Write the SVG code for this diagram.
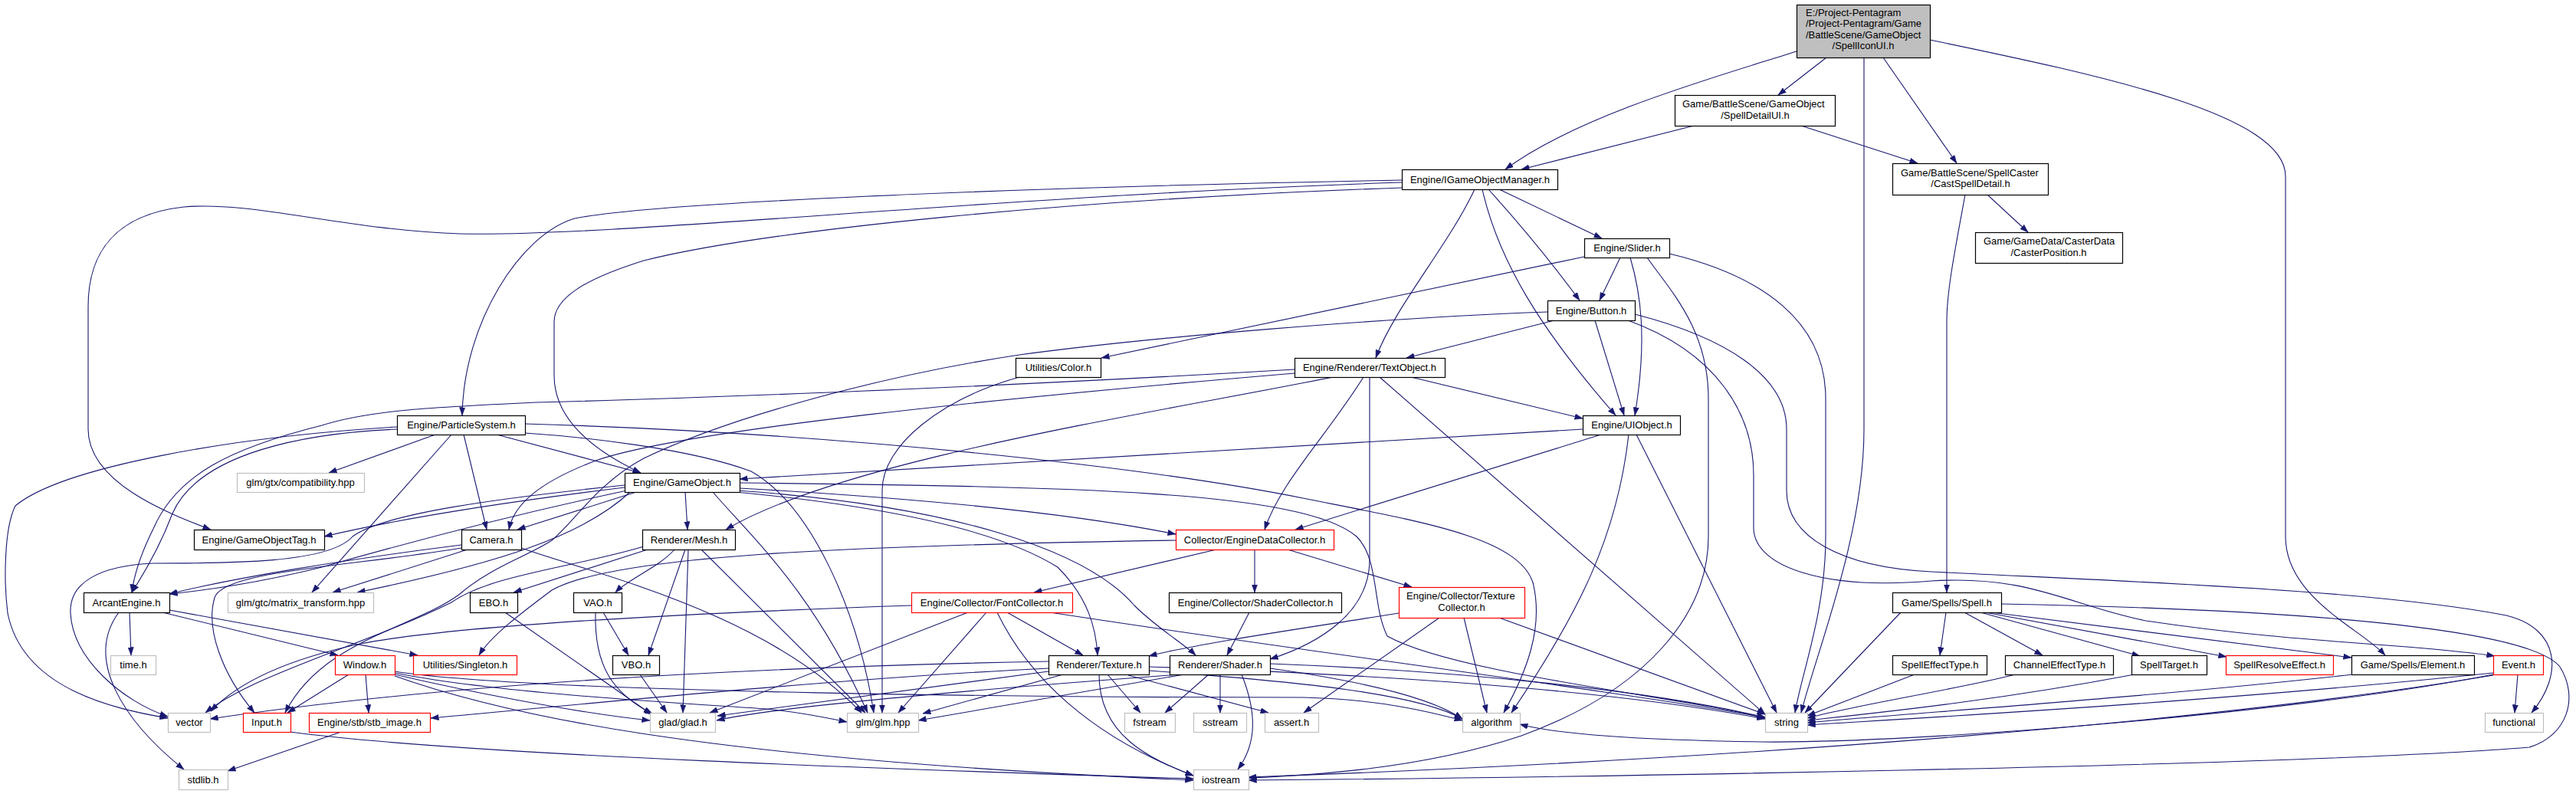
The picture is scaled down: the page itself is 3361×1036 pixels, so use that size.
<svg xmlns="http://www.w3.org/2000/svg" width="3361" height="1036" viewBox="0 0 3361 1036">
<style>
text{font-family:"Liberation Sans",Arial,Helvetica,sans-serif;font-size:13px;fill:#000}
.c{text-anchor:middle}
.s{text-anchor:start}
.nb rect{fill:#fff;stroke:#000;stroke-width:1.2}
.ng rect{fill:#fff;stroke:#bfbfbf;stroke-width:1.2}
.nr rect{fill:#fff;stroke:#ff0000;stroke-width:1.2}
.nroot rect{fill:#bfbfbf;stroke:#000;stroke-width:1.2}
#edges path{fill:none;stroke:#191970;stroke-width:1.1;marker-end:url(#arr)}
</style>
<defs>
<marker id="arr" markerUnits="userSpaceOnUse" viewBox="0 0 11 8" markerWidth="11" markerHeight="8" refX="10.5" refY="4" orient="auto">
<path d="M0,0.3 L10.5,4 L0,7.7 z" fill="#191970" stroke="#191970" stroke-width="0.5"/>
</marker>
</defs>
<rect x="0" y="0" width="3361" height="1036" fill="#fff"/>
<g id="edges">
<path d="M2344,67 C2240,100 2060,150 1964,221"/>
<path d="M2383,75 L2320,124"/>
<path d="M2432,75 L2432,560 C2432,700 2370,850 2350,930"/>
<path d="M2457,75 L2553,213"/>
<path d="M2518,52 C2750,100 2982,150 2982,230 L2982,700 C2982,780 3080,820 3112,855"/>
<path d="M2210,164 L1985,221"/>
<path d="M2350,164 L2502,213"/>
<path d="M2593,254 L2646,303"/>
<path d="M2564,254 C2550,330 2540,380 2540,420 L2540,773"/>
<path d="M1829,238 C1300,255 800,310 600,305 C450,300 330,262 240,270 C150,280 115,330 115,400 L115,560 C115,630 220,670 275,691"/>
<path d="M1829,235 C1300,245 850,265 750,285 C680,305 605,420 603,542"/>
<path d="M1829,245 C1400,260 1000,300 840,340 C760,365 723,390 723,420 L723,490 C723,560 800,600 836,617"/>
<path d="M1924,247 C1890,320 1820,400 1795,467"/>
<path d="M1934,247 C1955,340 2010,430 2108,542"/>
<path d="M1942,247 C1990,300 2030,350 2061,392"/>
<path d="M1956,247 L2090,311"/>
<path d="M2114,336 L2087,392"/>
<path d="M2127,336 C2140,380 2150,440 2133,542"/>
<path d="M2067,335 L1437,467"/>
<path d="M2178,331 C2300,360 2382,420 2382,520 L2382,700 C2382,800 2350,880 2342,930"/>
<path d="M2149,336 C2180,380 2229,430 2229,520 L2229,700 C2229,800 2150,900 1985,960 C1850,1005 1700,1012 1629,1015"/>
<path d="M2028,418 L1835,467"/>
<path d="M2081,418 L2119,542"/>
<path d="M2019,407 C1800,415 1500,440 1330,463 C1150,490 950,545 840,598 C780,630 750,680 720,705 C690,725 640,740 600,775 C540,820 420,835 372,930"/>
<path d="M2124,418 C2240,460 2288,540 2288,620 L2288,690 C2290,740 2380,770 2520,758 C2650,750 2700,790 2800,810 C3000,840 3150,840 3255,856"/>
<path d="M2133,410 C2250,440 2331,490 2331,560 L2331,640 C2331,700 2400,740 2520,746 C2800,760 3100,770 3270,803 C3340,820 3345,880 3303,930"/>
<path d="M1330,492 C1230,520 1151,580 1151,640 L1151,930"/>
<path d="M1689,482 C1300,505 900,520 700,525 C550,532 480,536 420,555 C300,585 230,620 200,690 C185,720 175,750 172,773"/>
<path d="M1689,487 C1300,520 900,560 780,600 C700,630 670,660 664,691"/>
<path d="M1739,492 C1500,540 1100,600 947,691"/>
<path d="M1779,492 C1730,570 1670,630 1650,691"/>
<path d="M1787,492 L1787,730 C1787,800 1720,840 1657,860"/>
<path d="M1800,492 L2303,932"/>
<path d="M1841,492 L2065,546"/>
<path d="M648,567 L836,617"/>
<path d="M605,567 L635,691"/>
<path d="M518,560 C400,565 260,590 225,670 C210,710 190,745 172,773"/>
<path d="M518,557 C300,570 80,610 20,660 C5,690 5,760 10,800 C30,900 150,925 219,937"/>
<path d="M568,567 L429,617"/>
<path d="M589,567 L407,773"/>
<path d="M685,565 C760,570 900,585 980,615 C1060,660 1120,800 1140,930"/>
<path d="M685,553 C1100,565 1500,610 1700,650 C1850,680 1980,700 2000,760 C2015,820 1990,880 1962,930"/>
<path d="M2065,560 L965,625"/>
<path d="M2089,567 L1690,691"/>
<path d="M2125,567 C2110,700 2060,800 1972,930"/>
<path d="M2135,567 L2318,930"/>
<path d="M815,636 C700,650 550,670 423,700"/>
<path d="M830,642 L675,691"/>
<path d="M818,640 C700,665 560,700 420,740 C320,765 250,772 221,775"/>
<path d="M894,642 L897,691"/>
<path d="M965,637 C1200,650 1400,670 1534,697"/>
<path d="M960,642 C1150,660 1300,690 1380,740 C1420,780 1430,820 1432,855"/>
<path d="M962,640 C1250,660 1420,720 1480,790 C1510,820 1545,840 1560,855"/>
<path d="M930,642 C980,700 1060,770 1132,930"/>
<path d="M822,642 C760,700 650,735 466,773"/>
<path d="M815,633 C650,650 500,670 460,700 C430,735 300,735 200,735 C130,738 90,760 92,800 C95,860 160,915 219,935"/>
<path d="M965,630 C1400,635 1700,640 1770,700 C1800,730 1790,790 1810,830 C1900,880 2200,910 2303,937"/>
<path d="M845,717 L670,773"/>
<path d="M880,717 C860,740 820,755 803,773"/>
<path d="M894,717 L846,855"/>
<path d="M898,717 L891,930"/>
<path d="M915,717 L1129,930"/>
<path d="M840,713 C750,740 640,750 589,786 C480,840 330,880 268,930"/>
<path d="M659,799 L850,932"/>
<path d="M787,799 L820,855"/>
<path d="M777,799 C775,870 800,905 852,932"/>
<path d="M835,880 L870,930"/>
<path d="M1587,717 L1349,773"/>
<path d="M1637,717 L1637,773"/>
<path d="M1680,717 L1842,766"/>
<path d="M1534,705 C1100,712 800,725 720,770 C680,800 640,830 625,855"/>
<path d="M1314,799 L1413,855"/>
<path d="M1263,799 L926,930"/>
<path d="M1287,799 L1172,930"/>
<path d="M1301,799 C1340,880 1420,960 1557,1012"/>
<path d="M1370,799 C1700,850 2100,900 2303,936"/>
<path d="M1189,790 C900,800 600,815 470,840 C400,855 320,880 275,928"/>
<path d="M1630,799 L1601,855"/>
<path d="M1825,800 C1700,820 1560,840 1499,856"/>
<path d="M1878,806 L1701,930"/>
<path d="M1910,806 L1940,930"/>
<path d="M1956,806 L2303,932"/>
<path d="M2539,799 L2531,855"/>
<path d="M2563,799 L2665,855"/>
<path d="M2584,799 L2792,856"/>
<path d="M2590,799 L2905,857"/>
<path d="M2598,799 L3068,858"/>
<path d="M2480,799 L2355,930"/>
<path d="M2611,788 C3000,795 3300,820 3340,870 C3365,910 3350,960 3300,975 C3000,1000 2000,1015 1629,1018"/>
<path d="M2498,880 L2358,934"/>
<path d="M2630,880 C2550,900 2420,920 2358,937"/>
<path d="M2785,880 C2600,915 2450,930 2358,940"/>
<path d="M3070,880 C2800,910 2500,930 2358,943"/>
<path d="M3253,878 C2900,915 2500,937 2358,946"/>
<path d="M3253,880 C3000,930 2500,970 2300,968 C2100,965 2020,955 1983,945"/>
<path d="M3253,881 C2900,940 2300,990 1629,1014"/>
<path d="M3285,880 L3281,930"/>
<path d="M455,880 L375,930"/>
<path d="M477,880 L481,930"/>
<path d="M515,880 C600,900 750,930 848,940"/>
<path d="M515,878 C650,905 900,918 1000,925 C1050,930 1080,937 1105,942"/>
<path d="M515,876 C700,905 1400,910 1700,910 C1800,912 1870,930 1908,940"/>
<path d="M515,882 C650,930 900,990 1557,1018"/>
<path d="M379,955 C600,985 1200,1005 1557,1016"/>
<path d="M445,955 L297,1006"/>
<path d="M602,711 C450,730 300,755 221,775"/>
<path d="M602,715 C450,740 290,745 280,780 C268,820 290,880 332,930"/>
<path d="M610,717 L434,773"/>
<path d="M680,715 C780,750 1000,800 1124,930"/>
<path d="M169,799 L171,855"/>
<path d="M155,799 C110,860 160,940 240,1004"/>
<path d="M212,799 L441,855"/>
<path d="M221,796 L545,855"/>
<path d="M1368,872 C1100,885 800,915 562,937"/>
<path d="M1368,863 C1000,870 600,890 274,938"/>
<path d="M1368,876 L936,934"/>
<path d="M1387,880 L1204,931"/>
<path d="M1445,880 L1488,930"/>
<path d="M1434,880 C1434,960 1500,990 1557,1012"/>
<path d="M1472,881 L1655,930"/>
<path d="M1499,870 C1800,880 2100,900 2303,938"/>
<path d="M1499,875 C1700,890 1850,905 1908,938"/>
<path d="M1540,880 C1200,905 1000,925 935,940"/>
<path d="M1545,880 C1400,905 1280,925 1198,940"/>
<path d="M1577,880 L1520,930"/>
<path d="M1592,880 L1592,930"/>
<path d="M1620,880 C1640,930 1640,970 1615,1004"/>
<path d="M1657,866 C1900,875 2150,900 2303,936"/>
<path d="M1657,872 C1750,885 1860,905 1908,938"/>
</g>
<g id="node-root" class="nroot"><rect x="2344.5" y="6.5" width="174" height="69"/>
<text class="s" x="2356" y="20.5">E:/Project-Pentagram</text>
<text class="s" x="2356" y="35">/Project-Pentagram/Game</text>
<text class="s" x="2356" y="49.5">/BattleScene/GameObject</text>
<text class="c" x="2431" y="64">/SpellIconUI.h</text></g>
<g id="node-spelldetailui" class="nb"><rect x="2185.5" y="124.5" width="209" height="40"/>
<text class="s" x="2195" y="140">Game/BattleScene/GameObject</text>
<text class="c" x="2290" y="154.5">/SpellDetailUI.h</text></g>
<g id="node-igameobjectmanager" class="nb"><rect x="1829.5" y="221.5" width="203" height="26"/><text class="c" x="1931" y="238.5">Engine/IGameObjectManager.h</text></g>
<g id="node-castspelldetail" class="nb"><rect x="2469.5" y="213.5" width="203" height="41"/>
<text class="s" x="2480" y="229.5">Game/BattleScene/SpellCaster</text>
<text class="c" x="2571" y="244">/CastSpellDetail.h</text></g>
<g id="node-casterposition" class="nb"><rect x="2577.5" y="303.5" width="192" height="40"/>
<text class="s" x="2588" y="319">Game/GameData/CasterData</text>
<text class="c" x="2673" y="333.5">/CasterPosition.h</text></g>
<g id="node-slider" class="nb"><rect x="2067.5" y="311.5" width="111" height="25"/><text class="c" x="2123" y="328">Engine/Slider.h</text></g>
<g id="node-button" class="nb"><rect x="2019.5" y="392.5" width="114" height="26"/><text class="c" x="2076" y="409.5">Engine/Button.h</text></g>
<g id="node-color" class="nb"><rect x="1325.5" y="467.5" width="111" height="25"/><text class="c" x="1381" y="484">Utilities/Color.h</text></g>
<g id="node-textobject" class="nb"><rect x="1689.5" y="467.5" width="196" height="25"/><text class="c" x="1787" y="484">Engine/Renderer/TextObject.h</text></g>
<g id="node-particlesystem" class="nb"><rect x="518.5" y="542.5" width="167" height="25"/><text class="c" x="602" y="559">Engine/ParticleSystem.h</text></g>
<g id="node-uiobject" class="nb"><rect x="2065.5" y="542.5" width="127" height="25"/><text class="c" x="2129" y="559">Engine/UIObject.h</text></g>
<g id="node-compat" class="ng"><rect x="309.5" y="617.5" width="166" height="25"/><text class="c" x="392" y="634">glm/gtx/compatibility.hpp</text></g>
<g id="node-gameobject" class="nb"><rect x="815.5" y="617.5" width="150" height="25"/><text class="c" x="890" y="634">Engine/GameObject.h</text></g>
<g id="node-gameobjecttag" class="nb"><rect x="253.5" y="691.5" width="170" height="26"/><text class="c" x="338" y="708.5">Engine/GameObjectTag.h</text></g>
<g id="node-camera" class="nb"><rect x="602.5" y="691.5" width="78" height="26"/><text class="c" x="641" y="708.5">Camera.h</text></g>
<g id="node-mesh" class="nb"><rect x="838.5" y="691.5" width="121" height="26"/><text class="c" x="899" y="708.5">Renderer/Mesh.h</text></g>
<g id="node-enginedatacollector" class="nr"><rect x="1534.5" y="691.5" width="206" height="26"/><text class="c" x="1637" y="708.5">Collector/EngineDataCollector.h</text></g>
<g id="node-arcantengine" class="nb"><rect x="109.5" y="773.5" width="112" height="26"/><text class="c" x="165" y="790.5">ArcantEngine.h</text></g>
<g id="node-matrixtransform" class="ng"><rect x="297.5" y="773.5" width="190" height="26"/><text class="c" x="392" y="790.5">glm/gtc/matrix_transform.hpp</text></g>
<g id="node-ebo" class="nb"><rect x="613.5" y="773.5" width="62" height="26"/><text class="c" x="644" y="790.5">EBO.h</text></g>
<g id="node-vao" class="nb"><rect x="748.5" y="773.5" width="63" height="26"/><text class="c" x="780" y="790.5">VAO.h</text></g>
<g id="node-fontcollector" class="nr"><rect x="1189.5" y="773.5" width="210" height="26"/><text class="c" x="1294" y="790.5">Engine/Collector/FontCollector.h</text></g>
<g id="node-shadercollector" class="nb"><rect x="1525.5" y="773.5" width="225" height="26"/><text class="c" x="1638" y="790.5">Engine/Collector/ShaderCollector.h</text></g>
<g id="node-texturecollector" class="nr"><rect x="1825.5" y="766.5" width="164" height="40"/>
<text class="s" x="1835" y="782">Engine/Collector/Texture</text>
<text class="c" x="1907" y="796.5">Collector.h</text></g>
<g id="node-spell" class="nb"><rect x="2469.5" y="773.5" width="142" height="26"/><text class="c" x="2540" y="790.5">Game/Spells/Spell.h</text></g>
<g id="node-time" class="ng"><rect x="144.5" y="855.5" width="59" height="25"/><text class="c" x="174" y="872">time.h</text></g>
<g id="node-window" class="nr"><rect x="437.5" y="855.5" width="78" height="25"/><text class="c" x="476" y="872">Window.h</text></g>
<g id="node-singleton" class="nr"><rect x="539.5" y="855.5" width="135" height="25"/><text class="c" x="607" y="872">Utilities/Singleton.h</text></g>
<g id="node-vbo" class="nb"><rect x="799.5" y="855.5" width="61" height="25"/><text class="c" x="830" y="872">VBO.h</text></g>
<g id="node-texture" class="nb"><rect x="1368.5" y="855.5" width="131" height="25"/><text class="c" x="1434" y="872">Renderer/Texture.h</text></g>
<g id="node-shader" class="nb"><rect x="1526.5" y="855.5" width="131" height="25"/><text class="c" x="1592" y="872">Renderer/Shader.h</text></g>
<g id="node-spelleffecttype" class="nb"><rect x="2469.5" y="855.5" width="123" height="25"/><text class="c" x="2531" y="872">SpellEffectType.h</text></g>
<g id="node-channeleffecttype" class="nb"><rect x="2616.5" y="855.5" width="141" height="25"/><text class="c" x="2687" y="872">ChannelEffectType.h</text></g>
<g id="node-spelltarget" class="nb"><rect x="2781.5" y="855.5" width="98" height="25"/><text class="c" x="2830" y="872">SpellTarget.h</text></g>
<g id="node-spellresolveeffect" class="nr"><rect x="2904.5" y="855.5" width="140" height="25"/><text class="c" x="2974" y="872">SpellResolveEffect.h</text></g>
<g id="node-element" class="nb"><rect x="3068.5" y="855.5" width="160" height="25"/><text class="c" x="3148" y="872">Game/Spells/Element.h</text></g>
<g id="node-event" class="nr"><rect x="3253.5" y="855.5" width="65" height="25"/><text class="c" x="3286" y="872">Event.h</text></g>
<g id="node-vector" class="ng"><rect x="219.5" y="930.5" width="55" height="25"/><text class="c" x="247" y="947">vector</text></g>
<g id="node-input" class="nr"><rect x="317.5" y="930.5" width="62" height="25"/><text class="c" x="348" y="947">Input.h</text></g>
<g id="node-stbimage" class="nr"><rect x="403.5" y="930.5" width="158" height="25"/><text class="c" x="482" y="947">Engine/stb/stb_image.h</text></g>
<g id="node-glad" class="ng"><rect x="848.5" y="930.5" width="85" height="25"/><text class="c" x="891" y="947">glad/glad.h</text></g>
<g id="node-glm" class="ng"><rect x="1105.5" y="930.5" width="93" height="25"/><text class="c" x="1152" y="947">glm/glm.hpp</text></g>
<g id="node-fstream" class="ng"><rect x="1467.5" y="930.5" width="66" height="25"/><text class="c" x="1500" y="947">fstream</text></g>
<g id="node-sstream" class="ng"><rect x="1557.5" y="930.5" width="69" height="25"/><text class="c" x="1592" y="947">sstream</text></g>
<g id="node-assert" class="ng"><rect x="1650.5" y="930.5" width="70" height="25"/><text class="c" x="1685" y="947">assert.h</text></g>
<g id="node-algorithm" class="ng"><rect x="1908.5" y="930.5" width="75" height="25"/><text class="c" x="1946" y="947">algorithm</text></g>
<g id="node-string" class="ng"><rect x="2303.5" y="930.5" width="55" height="25"/><text class="c" x="2331" y="947">string</text></g>
<g id="node-functional" class="ng"><rect x="3242.5" y="930.5" width="76" height="25"/><text class="c" x="3280" y="947">functional</text></g>
<g id="node-stdlib" class="ng"><rect x="233.5" y="1004.5" width="64" height="26"/><text class="c" x="265" y="1021.5">stdlib.h</text></g>
<g id="node-iostream" class="ng"><rect x="1557.5" y="1004.5" width="72" height="26"/><text class="c" x="1593" y="1021.5">iostream</text></g>
</svg>
